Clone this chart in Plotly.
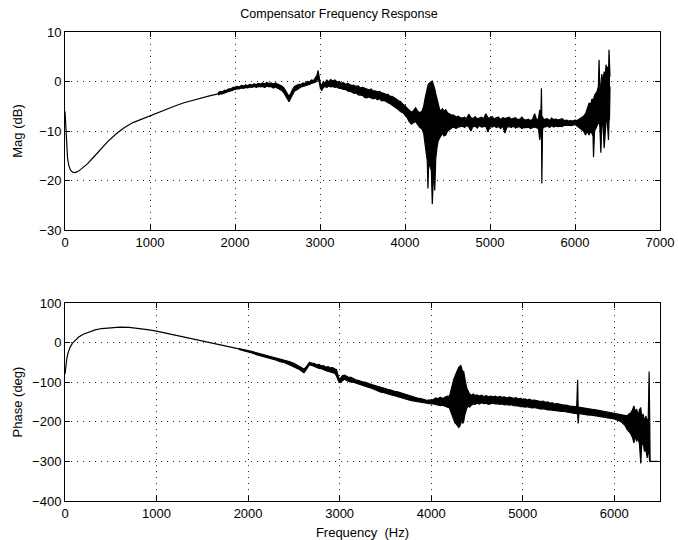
import plotly.graph_objects as go

# ================= Magnitude (dB) =================
# smooth low-frequency part
mag_freq = [0, 5, 10, 20, 30, 45, 65, 90, 120, 160, 200, 260, 330, 410, 500, 600, 700, 800, 900, 1000,
            1100, 1200, 1300, 1400, 1500, 1600, 1700, 1800]
mag_db = [-6.0, -8.0, -10.5, -13.5, -15.5, -17.0, -17.9, -18.3, -18.4, -18.1, -17.6, -16.7, -15.4, -13.9,
          -12.2, -10.6, -9.3, -8.3, -7.6, -6.9, -6.2, -5.5, -4.9, -4.3, -3.8, -3.3, -2.9, -2.5]

# noisy part: upper / lower extent of the noisy trace
mag_band_freq = [
    1800, 1825, 1850, 1875, 1900, 1925, 1950, 1975, 2000, 2025,
    2050, 2075, 2100, 2125, 2150, 2175, 2200, 2225, 2250, 2275,
    2300, 2325, 2350, 2375, 2400, 2425, 2450, 2475, 2500, 2525,
    2550, 2575, 2600, 2620, 2635, 2650, 2665, 2680, 2700, 2725,
    2750, 2775, 2800, 2825, 2850, 2875, 2900, 2925, 2950, 2965,
    2977, 2990, 3005, 3020, 3040, 3060, 3080, 3100, 3125, 3150,
    3175, 3200, 3225, 3250, 3275, 3300, 3325, 3350, 3375, 3400,
    3425, 3450, 3475, 3500, 3525, 3550, 3575, 3600, 3625, 3650,
    3675, 3700, 3725, 3750, 3775, 3800, 3825, 3850, 3875, 3900,
    3925, 3950, 3975, 4000, 4025, 4050, 4075, 4100, 4125, 4150,
    4175, 4200, 4220, 4235, 4250, 4262, 4270, 4278, 4290, 4300,
    4310, 4321, 4330, 4340, 4350, 4362, 4375, 4390, 4405, 4420,
    4440, 4460, 4480, 4500, 4525, 4550, 4575, 4600, 4625, 4650,
    4675, 4700, 4725, 4750, 4775, 4800, 4825, 4850, 4875, 4900,
    4925, 4950, 4975, 5000, 5025, 5050, 5075, 5100, 5125, 5150,
    5175, 5200, 5225, 5250, 5275, 5300, 5325, 5350, 5375, 5400,
    5425, 5450, 5475, 5500, 5525, 5550, 5570, 5585, 5598, 5605,
    5610, 5618, 5630, 5650, 5675, 5700, 5725, 5750, 5775, 5800,
    5825, 5850, 5875, 5900, 5925, 5950, 5975, 6000, 6025, 6050,
    6075, 6100, 6125, 6145, 6165, 6185, 6200, 6212, 6218, 6230,
    6245, 6260, 6275, 6283, 6292, 6304, 6315, 6328, 6343, 6355,
    6365, 6375, 6385, 6394, 6400, 6406, 6412]
mag_band_hi = [
    -2.3, -2.0, -2.1, -1.8, -1.8, -1.5, -1.5, -1.2, -1.2, -1.0,
    -1.1, -0.8, -0.9, -0.7, -0.8, -0.6, -0.7, -0.5, -0.6, -0.4,
    -0.5, -0.3, -0.5, -0.2, -0.4, -0.3, -0.5, -0.3, -0.5, -0.7,
    -0.9, -1.3, -1.9, -2.6, -3.0, -2.6, -2.0, -1.5, -1.0, -0.8,
    -0.6, -0.6, -0.3, -0.4, 0.0, -0.1, 0.3, 0.2, 0.8, 1.3,
    2.2, 0.8, -0.5, -0.8, 0.0, -0.3, 0.3, -0.1, 0.4, 0.1,
    0.3, -0.1, 0.0, -0.4, -0.2, -0.6, -0.4, -0.6, -0.8, -0.8,
    -1.0, -0.9, -1.3, -1.2, -1.4, -1.6, -1.7, -1.5, -1.9, -1.9,
    -2.1, -2.0, -2.3, -2.4, -2.6, -2.6, -3.0, -3.0, -3.4, -3.6,
    -3.9, -4.1, -4.6, -4.9, -5.4, -5.8, -6.2, -5.9, -5.3, -6.0,
    -6.3, -6.0, -5.0, -3.5, -2.0, -1.2, -0.8, -0.5, -0.3, 0.0,
    0.0, 0.1, -0.3, -0.8, -1.5, -2.5, -3.5, -4.5, -5.5, -6.0,
    -5.5, -6.0, -5.7, -6.3, -6.5, -6.8, -6.8, -7.2, -7.0, -7.3,
    -7.4, -7.2, -7.5, -6.6, -7.3, -7.5, -7.1, -7.6, -7.4, -7.2,
    -7.5, -6.5, -7.3, -7.4, -7.1, -7.6, -7.3, -7.2, -7.7, -7.3,
    -7.5, -7.4, -7.2, -7.6, -7.5, -7.3, -7.7, -7.6, -7.2, -7.7,
    -7.8, -7.6, -7.9, -7.7, -6.5, -7.8, -7.5, -5.7, -7.3, -1.35,
    -7.8, -7.1, -7.7, -7.6, -7.5, -7.9, -7.4, -7.7, -7.6, -7.8,
    -7.7, -7.5, -7.9, -7.8, -8.0, -7.9, -8.0, -7.8, -7.9, -7.6,
    -7.2, -7.0, -6.5, -5.5, -4.4, -4.5, -3.5, -4.0, -3.5, -2.8,
    -2.4, -2.0, -1.0, 4.4, -1.5, -1.0, 1.5, 0.0, 2.0, 1.0,
    3.4, 2.0, 3.0, 1.0, 6.4, 3.0, 1.0]
mag_band_lo = [
    -2.7, -2.5, -2.5, -2.3, -2.2, -2.0, -1.9, -1.7, -1.6, -1.5,
    -1.5, -1.3, -1.4, -1.2, -1.3, -1.1, -1.2, -1.0, -1.2, -1.0,
    -1.1, -1.0, -1.2, -0.9, -1.1, -1.0, -1.3, -1.1, -1.3, -1.6,
    -1.8, -2.3, -2.9, -3.6, -4.1, -3.6, -2.9, -2.4, -1.9, -1.7,
    -1.3, -1.1, -1.0, -0.9, -0.7, -0.6, -0.4, -0.3, -0.1, 0.2,
    0.8, -0.1, -1.4, -1.8, -1.2, -1.0, -1.2, -0.9, -1.1, -1.0,
    -1.2, -1.1, -1.4, -1.4, -1.6, -1.6, -1.9, -2.0, -2.1, -2.4,
    -2.3, -2.7, -2.8, -2.8, -3.2, -3.3, -3.1, -3.3, -3.5, -3.3,
    -3.7, -3.5, -3.9, -3.8, -4.1, -4.3, -4.5, -4.8, -5.1, -5.3,
    -5.7, -6.1, -6.3, -6.8, -7.3, -8.1, -8.6, -8.3, -8.1, -8.7,
    -9.3, -9.6, -10.5, -12.5, -14.5, -16.0, -21.6, -16.5, -17.0, -17.5,
    -18.0, -24.8, -18.0, -17.0, -22.0, -15.5, -13.5, -12.0, -11.5, -11.0,
    -10.5, -11.0, -10.8, -10.0, -9.6, -9.4, -9.2, -9.5, -9.2, -9.1,
    -9.0, -9.3, -8.9, -9.2, -10.0, -9.1, -9.0, -9.4, -8.9, -9.2,
    -9.1, -9.0, -10.2, -9.1, -9.2, -9.0, -9.3, -9.1, -9.5, -9.0,
    -10.4, -9.2, -9.1, -9.3, -9.0, -9.4, -9.2, -9.1, -9.5, -9.3,
    -9.3, -9.2, -9.5, -9.4, -9.2, -9.4, -9.5, -11.8, -9.7, -9.2,
    -20.6, -9.7, -9.1, -9.2, -9.0, -9.3, -8.9, -9.2, -9.0, -9.1,
    -9.0, -9.1, -8.8, -8.9, -8.8, -8.9, -8.8, -8.7, -9.0, -9.3,
    -9.6, -10.0, -10.8, -10.0, -10.8, -10.0, -10.5, -11.0, -15.3, -10.0,
    -9.5, -9.0, -8.5, -8.0, -9.0, -14.4, -9.0, -8.0, -13.5, -9.0,
    -8.0, -7.0, -9.0, -11.8, -8.0, -7.5, -1.0]

# ================= Phase (deg) =================
ph_freq = [0, 5, 10, 20, 35, 55, 80, 110, 150, 200, 260, 330, 400, 500, 600, 700, 800, 900, 1000,
           1100, 1200, 1300, 1400, 1500, 1600, 1700, 1800, 1900]
ph_deg = [-80, -65, -55, -40, -25, -12, -2, 6, 14, 21, 27, 32, 35.5, 38, 39, 38.5, 36, 32.5, 29,
          24, 19, 14, 9.5, 4.5, -0.5, -5.5, -11, -16]

ph_band_freq = [
    1900, 1950, 2000, 2050, 2100, 2150, 2200, 2250, 2300, 2350,
    2400, 2450, 2500, 2530, 2560, 2590, 2610, 2630, 2650, 2670,
    2700, 2725, 2750, 2775, 2800, 2825, 2850, 2875, 2900, 2925,
    2950, 2965, 2980, 2995, 3010, 3030, 3055, 3080, 3100, 3125,
    3150, 3175, 3200, 3225, 3250, 3275, 3300, 3325, 3350, 3375,
    3400, 3425, 3450, 3475, 3500, 3525, 3550, 3575, 3600, 3625,
    3650, 3675, 3700, 3725, 3750, 3775, 3800, 3825, 3850, 3875,
    3900, 3925, 3950, 3975, 4000, 4025, 4050, 4075, 4100, 4125,
    4150, 4175, 4200, 4215, 4230, 4245, 4260, 4275, 4290, 4300,
    4312, 4324, 4335, 4345, 4355, 4365, 4375, 4390, 4405, 4420,
    4440, 4460, 4480, 4500, 4525, 4550, 4575, 4600, 4625, 4650,
    4675, 4700, 4725, 4750, 4775, 4800, 4825, 4850, 4875, 4900,
    4925, 4950, 4975, 5000, 5025, 5050, 5075, 5100, 5125, 5150,
    5175, 5200, 5225, 5250, 5275, 5300, 5325, 5350, 5375, 5400,
    5425, 5450, 5475, 5500, 5525, 5550, 5570, 5590, 5600, 5606,
    5615, 5640, 5660, 5680, 5700, 5725, 5750, 5775, 5800, 5825,
    5850, 5875, 5900, 5925, 5950, 5975, 6000, 6025, 6050, 6075,
    6100, 6120, 6140, 6160, 6180, 6200, 6215, 6230, 6245, 6260,
    6275, 6290, 6300, 6315, 6330, 6345, 6360, 6372, 6381, 6388,
    6392]
ph_band_hi = [
    -15, -17, -20, -23, -26, -29, -32, -35, -38, -41,
    -44, -48, -52, -56, -59, -63, -67, -63, -57, -50,
    -52, -53, -56, -55, -59, -58, -62, -61, -64, -63,
    -67, -68, -80, -92, -90, -84, -82, -86, -88, -88,
    -92, -94, -95, -98, -99, -100, -103, -104, -106, -108,
    -109, -112, -113, -114, -117, -118, -119, -122, -123, -124,
    -126, -127, -129, -132, -133, -135, -136, -138, -140, -141,
    -142, -144, -146, -145, -145, -144, -140, -142, -138, -141,
    -138, -135, -136, -120, -105, -94, -85, -75, -68, -63,
    -60, -58, -66, -77, -72, -90, -100, -115, -122, -130,
    -133, -130, -134, -132, -135, -133, -136, -134, -137, -135,
    -137, -135, -138, -136, -138, -137, -140, -138, -139, -141,
    -139, -142, -141, -143, -142, -145, -143, -146, -145, -147,
    -148, -149, -148, -151, -150, -153, -152, -155, -154, -156,
    -157, -158, -158, -160, -161, -161, -162, -160, -94, -165,
    -163, -164, -165, -166, -167, -168, -169, -169, -170, -171,
    -172, -173, -174, -176, -177, -178, -179, -180, -181, -182,
    -182, -184, -185, -180, -178, -170, -160, -175, -168, -185,
    -170, -164, -190, -180, -200, -185, -200, -190, -73, -200,
    -300]
ph_band_lo = [
    -17, -20, -24, -27, -31, -34, -38, -41, -44, -48,
    -51, -56, -61, -64, -68, -73, -76, -70, -63, -56,
    -58, -61, -62, -65, -66, -69, -70, -73, -74, -76,
    -78, -84, -95, -101, -100, -96, -92, -96, -98, -100,
    -100, -102, -105, -106, -108, -110, -112, -114, -115, -118,
    -121, -122, -125, -126, -128, -130, -131, -133, -134, -136,
    -137, -139, -140, -142, -144, -146, -147, -148, -150, -151,
    -152, -153, -154, -154, -155, -155, -156, -158, -159, -158,
    -160, -162, -165, -175, -185, -195, -203, -206, -210, -214,
    -212, -200, -196, -204, -200, -185, -175, -165, -160, -163,
    -158, -155, -156, -153, -155, -152, -154, -153, -156, -154,
    -153, -155, -154, -156, -155, -157, -156, -158, -157, -159,
    -159, -160, -162, -161, -163, -162, -164, -165, -164, -166,
    -166, -168, -167, -169, -170, -170, -171, -172, -172, -173,
    -174, -174, -175, -176, -176, -177, -178, -180, -180, -204,
    -179, -180, -181, -181, -182, -183, -183, -184, -184, -185,
    -186, -187, -188, -190, -191, -192, -193, -195, -197, -200,
    -205, -210, -219, -225, -230, -240, -253, -235, -250, -240,
    -255, -305, -260, -250, -275, -270, -291, -265, -300, -300,
    -300]
ph_tail_freq = [6392, 6480]
ph_tail_deg = [-300, -300]

title_text = "Compensator Frequency Response"
mag_label = "Mag (dB)"
phase_label = "Phase (deg)"
freq_label = "Frequency  (Hz)"
mag_yticks = [-30, -20, -10, 0, 10]
phase_yticks = [-400, -300, -200, -100, 0, 100]
mag_xticks = [0, 1000, 2000, 3000, 4000, 5000, 6000, 7000]
phase_xticks = [0, 1000, 2000, 3000, 4000, 5000, 6000]

FONT = "Liberation Sans, Arial, Helvetica, sans-serif"
LINE = dict(color="black", width=1.2)

fig = go.Figure()
# magnitude
fig.add_trace(go.Scatter(x=mag_freq, y=mag_db, mode="lines", line=LINE, showlegend=False,
                         xaxis="x", yaxis="y"))
fig.add_trace(go.Scatter(x=mag_band_freq, y=mag_band_hi, mode="lines", line=LINE, showlegend=False,
                         xaxis="x", yaxis="y"))
fig.add_trace(go.Scatter(x=mag_band_freq, y=mag_band_lo, mode="lines", line=LINE, showlegend=False,
                         fill="tonexty", fillcolor="black", xaxis="x", yaxis="y"))
# phase
fig.add_trace(go.Scatter(x=ph_freq, y=ph_deg, mode="lines", line=LINE, showlegend=False,
                         xaxis="x2", yaxis="y2"))
fig.add_trace(go.Scatter(x=ph_band_freq, y=ph_band_hi, mode="lines", line=LINE, showlegend=False,
                         xaxis="x2", yaxis="y2"))
fig.add_trace(go.Scatter(x=ph_band_freq, y=ph_band_lo, mode="lines", line=LINE, showlegend=False,
                         fill="tonexty", fillcolor="black", xaxis="x2", yaxis="y2"))
fig.add_trace(go.Scatter(x=ph_tail_freq, y=ph_tail_deg, mode="lines", line=LINE, showlegend=False,
                         xaxis="x2", yaxis="y2"))

axis_common = dict(showline=True, linecolor="black", linewidth=1, mirror="ticks",
                   ticks="inside", ticklen=5, tickcolor="black", automargin=False,
                   showgrid=True, gridcolor="rgba(0,0,0,0.85)", griddash="1px,5px", gridwidth=1,
                   zeroline=False, tickfont=dict(family=FONT, size=13, color="black"))

fig.update_layout(
    width=678, height=540,
    paper_bgcolor="white", plot_bgcolor="white",
    margin=dict(l=65, r=18, t=32, b=39, autoexpand=False),
    font=dict(family=FONT, size=13, color="black"),
    title=dict(text=title_text, x=0.5, xanchor="center", y=1 - 14 / 540, yanchor="middle",
               yref="container", font=dict(family=FONT, size=12.5, color="black")),
    xaxis=dict(range=[0, 7000], tickvals=mag_xticks, domain=[0, 1], anchor="y", **axis_common),
    yaxis=dict(range=[-30, 10], tickvals=mag_yticks, domain=[0.5778, 1], anchor="x",
               title=dict(text=mag_label, standoff=13, font=dict(family=FONT, size=13)), **axis_common),
    xaxis2=dict(range=[0, 6500], tickvals=phase_xticks, domain=[0, 1], anchor="y2",
                title=dict(text=freq_label, standoff=11, font=dict(family=FONT, size=13)), **axis_common),
    yaxis2=dict(range=[-400, 100], tickvals=phase_yticks, domain=[0, 0.4222], anchor="x2",
                title=dict(text=phase_label, standoff=6, font=dict(family=FONT, size=13)), **axis_common),
)
for ax in ["xaxis", "yaxis", "xaxis2", "yaxis2"]:
    fig.layout[ax].tickformat = "d"

# remove the browser's default 8 px page margin so the 678x540 figure fills the window exactly
fig.write_html("out.html", config={"displayModeBar": False},
               post_script="document.body.style.margin='0';document.body.style.overflow='hidden';")
